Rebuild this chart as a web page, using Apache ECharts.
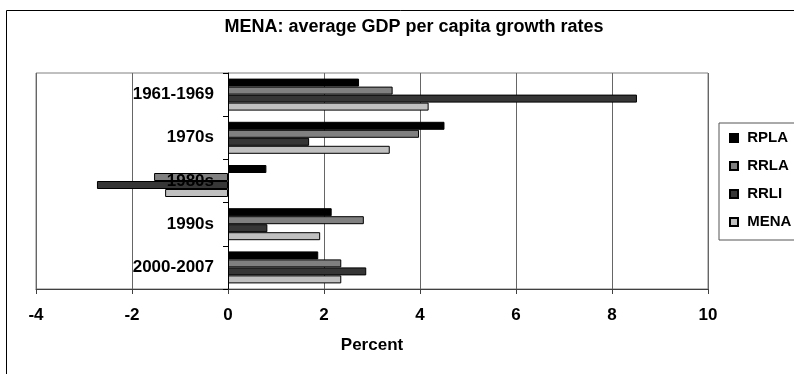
<!DOCTYPE html>
<html>
<head>
<meta charset="utf-8">
<script src="https://cdn.jsdelivr.net/npm/echarts@6/dist/echarts.min.js"></script>
<style>
  html, body { margin: 0; padding: 0; background: #fff; }
  #chart { width: 794px; height: 374px; }
</style>
</head>
<body>
<div id="chart"></div>
<script>
// Periods shown on the category axis (top to bottom)
const categories = ['1961-1969', '1970s', '1980s', '1990s', '2000-2007'];

// Average GDP per capita growth, percent
const rpla = [2.73, 4.51, 0.80, 2.16, 1.88];
const rrla = [3.43, 3.98, -1.54, 2.83, 2.36];
const rrli = [8.52, 1.69, -2.73, 0.82, 2.88];
const mena = [4.18, 3.37, -1.31, 1.92, 2.36];

const seriesNames = ['RPLA', 'RRLA', 'RRLI', 'MENA'];
const seriesColors = ['#000000', '#808080', '#363636', '#c0c0c0'];
const seriesValues = [rpla, rrla, rrli, mena];

// Value axis range
const xMin = -4, xMax = 10, xStep = 2;

const FONT = '"Liberation Sans", Arial, sans-serif';

const GRID = { left: 36, top: 73, width: 672, height: 216 };

// The category axis (with its labels) sits where the value axis crosses zero
const zeroShift = (0 - xMin) / (xMax - xMin) * GRID.width;

const chart = echarts.init(document.getElementById('chart'), null, { renderer: 'canvas' });

chart.setOption({
  animation: false,
  backgroundColor: '#ffffff',
  graphic: [{
    type: 'rect',
    silent: true,
    shape: { x: 6.5, y: 10.5, width: 820, height: 400 },
    style: { fill: null, stroke: '#000', lineWidth: 1 }
  }],
  title: {
    text: 'MENA: average GDP per capita growth rates',
    left: 409,
    top: 13,
    textAlign: 'center',
    textStyle: { fontFamily: FONT, fontWeight: 'bold', fontSize: 18, color: '#000' }
  },
  legend: {
    orient: 'vertical',
    left: 719,
    top: 123,
    width: 74,
    padding: [6, 4, 9, 10],
    itemGap: 10,
    itemWidth: 8,
    itemHeight: 8,
    icon: 'rect',
    borderColor: '#555',
    borderWidth: 1,
    formatter: name => ' ' + name,
    textStyle: { fontFamily: FONT, fontWeight: 'bold', fontSize: 15, lineHeight: 18, color: '#000' },
    data: seriesNames
  },
  grid: {
    left: GRID.left, top: GRID.top, width: GRID.width, height: GRID.height,
    containLabel: false,
    outerBoundsMode: 'none',
    show: true, borderColor: '#808080', borderWidth: 1
  },
  xAxis: {
    type: 'value',
    min: xMin, max: xMax, interval: xStep,
    name: 'Percent',
    nameLocation: 'middle',
    nameGap: 48,
    nameTextStyle: { fontFamily: FONT, fontWeight: 'bold', fontSize: 17, color: '#000' },
    axisLine: { show: true, onZero: false, lineStyle: { color: '#404040', width: 1 } },
    axisTick: { show: true, length: 5, lineStyle: { color: '#404040' } },
    axisLabel: { margin: 18, fontFamily: FONT, fontWeight: 'bold', fontSize: 17, color: '#000' },
    splitLine: { show: true, lineStyle: { color: '#666', width: 1 } }
  },
  yAxis: {
    type: 'category',
    data: categories,
    inverse: true,
    position: 'left',
    offset: -zeroShift,
    z: 5,
    axisLine: { show: true, onZero: false, lineStyle: { color: '#000', width: 1 } },
    axisTick: { show: true, length: 5, alignWithLabel: false, lineStyle: { color: '#000' } },
    axisLabel: { margin: 14, fontFamily: FONT, fontWeight: 'bold', fontSize: 17, color: '#000' },
    splitLine: { show: false }
  },
  series: seriesNames.map((name, i) => ({
    name: name,
    type: 'bar',
    data: seriesValues[i],
    barWidth: 8,
    barGap: '0%',
    itemStyle: { color: seriesColors[i], borderColor: '#000', borderWidth: 1 }
  }))
});
</script>
</body>
</html>
